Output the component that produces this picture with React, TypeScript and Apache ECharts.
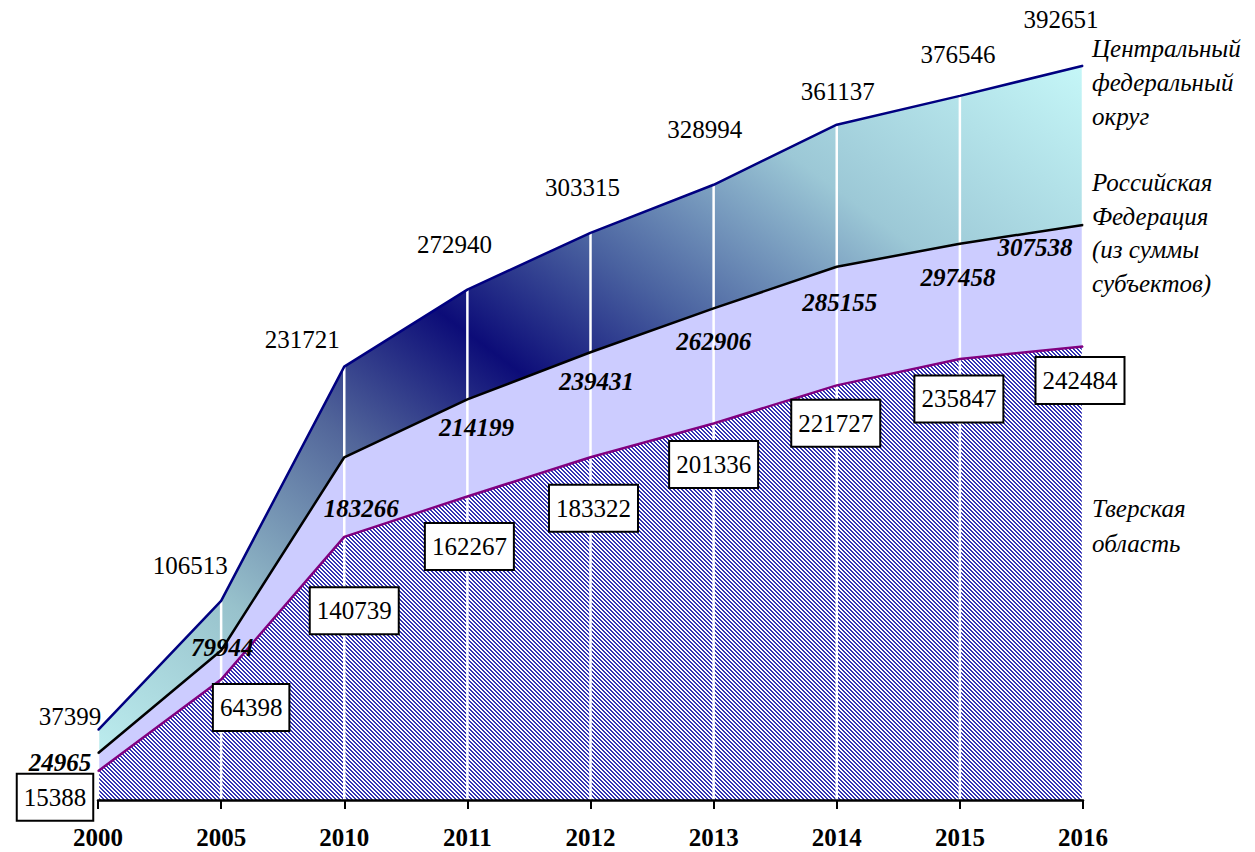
import React, { useEffect, useRef } from "react";
import * as echarts from "echarts";

const categories = ["2000", "2005", "2010", "2011", "2012", "2013", "2014", "2015", "2016"];
const central = [37399, 106513, 231721, 272940, 303315, 328994, 361137, 376546, 392651];
const russia = [24965, 79944, 183266, 214199, 239431, 262906, 285155, 297458, 307538];
const tver = [15388, 64398, 140739, 162267, 183322, 201336, 221727, 235847, 242484];

const centralName = "Центральный\nфедеральный\nокруг";
const russiaName = "Российская\nФедерация\n(из суммы\nсубъектов)";
const tverName = "Тверская\nобласть";

// label placement offsets (pixels from the data point to the label centre)
const centralOffsets = [[-28, -14], [-31, -35], [-42, -27], [-13, -45], [-8, -45], [-9, -55], [1, -33], [-2, -41], [-22, -46]];
const russiaOffsets = [[-38, 9], [1, -3], [17, 51], [9, 28], [6, 29], [0, 33], [3, 36], [-2, 34], [-48, 23]];
const tverOffsets = [[-43, 26], [30, 28], [10, 74], [2, 50], [3, 51], [0, 41], [-1, 38], [-1, 40], [-3, 34]];

const SERIF = "'Liberation Serif', 'Times New Roman', Times, 'DejaVu Serif', serif";

function makePattern(): HTMLCanvasElement {
  const c = document.createElement("canvas");
  c.width = 4;
  c.height = 4;
  const ctx = c.getContext("2d")!;
  ctx.fillStyle = "#ffffff";
  ctx.fillRect(0, 0, 4, 4);
  ctx.fillStyle = "#3333b4";
  for (let x = 0; x < 4; x++) {
    for (let y = 0; y < 4; y++) {
      if ((x - y + 8) % 4 < 2) ctx.fillRect(x, y, 1, 1);
    }
  }
  return c;
}

export default function App() {
  const ref = useRef<HTMLDivElement>(null);
  useEffect(() => {
    if (!ref.current) return;
    const chart = echarts.init(ref.current, null, { renderer: "svg" });
    const pattern = makePattern();

    const gradient = new echarts.graphic.LinearGradient(
      111, 816, 829, -146,
      [
        { offset: 0, color: "#c4f6f6" },
        { offset: 0.2, color: "#98c2cc" },
        { offset: 0.37, color: "#52669a" },
        { offset: 0.5, color: "#0c0c78" },
        { offset: 0.62, color: "#4a62a0" },
        { offset: 0.78, color: "#9cc8d6" },
        { offset: 1, color: "#c8fafa" },
      ],
      true
    );

    const mkLabels = (vals: number[], offs: number[][]) =>
      vals.map((v, i) => ({ value: v, label: { offset: offs[i] } }));

    const areaBase = {
      type: "line",
      symbol: "none",
      lineStyle: { width: 0 },
      silent: true,
      z: 1,
    };

    chart.setOption({
      animation: false,
      backgroundColor: "#ffffff",
      grid: { left: 98, right: 172, top: 52, bottom: 52, containLabel: false },
      xAxis: {
        type: "category",
        data: categories,
        boundaryGap: false,
        axisLine: { lineStyle: { color: "#000", width: 2.5 } },
        axisTick: { show: true, length: 9, inside: false, lineStyle: { color: "#000", width: 2 } },
        axisLabel: {
          margin: 25,
          color: "#000",
          fontFamily: SERIF,
          fontWeight: "bold",
          fontSize: 25,
          interval: 0,
        },
        splitLine: { show: false },
        z: 10,
      },
      yAxis: {
        type: "value",
        min: 0,
        max: 400000,
        show: false,
        splitLine: { show: false },
      },
      series: [
        { ...areaBase, name: "c-area", data: central, areaStyle: { color: gradient, opacity: 1 } },
        { ...areaBase, name: "r-area", data: russia, areaStyle: { color: "#ccccff", opacity: 1 } },
        { ...areaBase, name: "t-area", data: tver, areaStyle: { color: { image: pattern, repeat: "repeat" }, opacity: 1 } },
        {
          type: "custom",
          z: 3,
          data: central.map((v, i) => [i, v]),
          silent: true,
          clip: false,
          renderItem: (params: any, api: any) => {
            const i = api.value(0);
            const top = api.coord([i, api.value(1)]);
            const bottom = api.coord([i, 0]);
            return {
              type: "rect",
              shape: { x: top[0] - 1.25, y: top[1], width: 2.5, height: bottom[1] - top[1] },
              style: { fill: "#ffffff" },
            };
          },
        },
        {
          type: "line",
          z: 5,
          name: "Центральный федеральный округ",
          data: mkLabels(central, centralOffsets),
          symbol: "circle",
          symbolSize: 1,
          itemStyle: { color: "#000080" },
          lineStyle: { color: "#000080", width: 2.5 },
          label: {
            show: true,
            position: "inside",
            color: "#000",
            fontFamily: SERIF,
            fontSize: 25,
          },
        },
        {
          type: "line",
          z: 5,
          name: "Российская Федерация",
          data: mkLabels(russia, russiaOffsets),
          symbol: "circle",
          symbolSize: 1,
          itemStyle: { color: "#000000" },
          lineStyle: { color: "#000000", width: 2.5 },
          label: {
            show: true,
            position: "inside",
            color: "#000",
            fontFamily: SERIF,
            fontSize: 25,
            fontWeight: "bold",
            fontStyle: "italic",
          },
        },
        {
          type: "line",
          z: 5,
          name: "Тверская область",
          data: mkLabels(tver, tverOffsets),
          symbol: "circle",
          symbolSize: 1,
          itemStyle: { color: "#800080" },
          lineStyle: { color: "#800080", width: 2.5 },
          label: {
            show: true,
            position: "inside",
            color: "#000",
            fontFamily: SERIF,
            fontSize: 25,
            backgroundColor: "#ffffff",
            borderColor: "#000000",
            borderWidth: 2,
            padding: [11, 6, 9, 6],
          },
        },
      ],
      graphic: [
        {
          type: "text",
          left: 1092,
          top: 31,
          style: { text: centralName, fontFamily: SERIF, fontStyle: "italic", fontSize: 25, lineHeight: 34, fill: "#000" },
        },
        {
          type: "text",
          left: 1092,
          top: 166,
          style: { text: russiaName, fontFamily: SERIF, fontStyle: "italic", fontSize: 25, lineHeight: 33.5, fill: "#000" },
        },
        {
          type: "text",
          left: 1092,
          top: 491,
          style: { text: tverName, fontFamily: SERIF, fontStyle: "italic", fontSize: 25, lineHeight: 35, fill: "#000" },
        },
      ],
    });
    return () => chart.dispose();
  }, []);
  return (
    <div
      ref={ref}
      style={{ position: "fixed", left: 0, top: 0, width: 1255, height: 852, background: "#fff" }}
    />
  );
}
